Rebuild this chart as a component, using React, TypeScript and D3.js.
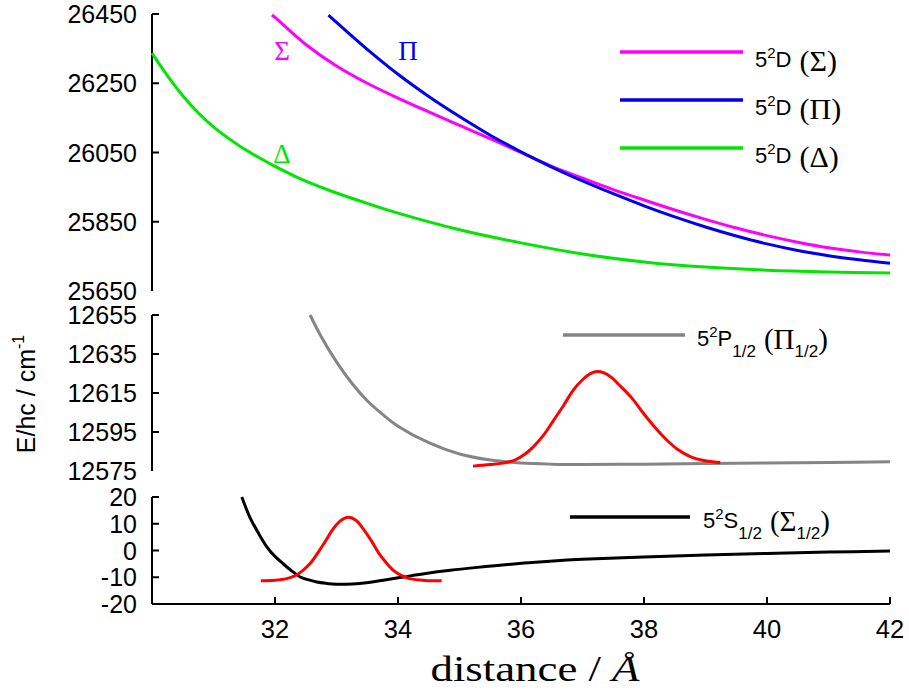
import React from 'react';
import * as d3 from 'd3';

// ---- Data ----
// Top panel: 5²D potentials (E/hc in cm^-1) vs distance (Å)
const sigmaX = [31.95, 32, 32.5, 33, 33.5, 34, 34.5, 35, 35.5, 36, 36.5, 37, 37.5, 38, 38.5, 39, 39.5, 40, 40.5, 41, 41.5, 42];
const sigmaY = [26447, 26440, 26362, 26300, 26250, 26207, 26167, 26128, 26090, 26050, 26010, 25976, 25943, 25913, 25884, 25857, 25832, 25810, 25791, 25775, 25763, 25754];
const piX = [32.87, 33, 33.5, 34, 34.5, 35, 35.5, 36, 36.5, 37, 37.5, 38, 38.5, 39, 39.5, 40, 40.5, 41, 41.5, 42];
const piY = [26447, 26426, 26348, 26276, 26212, 26154, 26100, 26052, 26008, 25968, 25931, 25896, 25864, 25835, 25809, 25786, 25767, 25752, 25740, 25730];
const deltaX = [30, 30.25, 30.5, 30.75, 31, 31.25, 31.5, 31.75, 32, 32.5, 33, 33.5, 34, 35, 36, 37, 38, 39, 40, 41, 42];
const deltaY = [26337, 26272, 26214, 26165, 26124, 26090, 26060, 26034, 26010, 25967, 25933, 25903, 25875, 25827, 25789, 25757, 25734, 25719, 25710, 25705, 25702];

// Middle panel: 5²P1/2 potential and its wavefunction
const pX = [32.57, 32.75, 33, 33.25, 33.5, 33.75, 34, 34.5, 35, 35.5, 36, 36.5, 37, 38, 39, 40, 41, 42];
const pY = [12655, 12644, 12631, 12620, 12611, 12604, 12598, 12589.5, 12583.7, 12580.6, 12579.1, 12578.5, 12578.3, 12578.5, 12578.8, 12579.1, 12579.4, 12579.7];
const wpX = [35.22, 35.5, 35.75, 35.9, 36.05, 36.2, 36.37, 36.53, 36.7, 36.85, 37.0, 37.12, 37.23, 37.35, 37.47, 37.6, 37.8, 37.99, 38.18, 38.37, 38.55, 38.75, 38.95, 39.18, 39.24];
const wpY = [12577.5, 12578.3, 12579.3, 12580.6, 12583.3, 12587.4, 12593.5, 12601, 12609, 12616.5, 12621.8, 12624.8, 12626, 12625.3, 12623, 12619, 12612.5, 12604.6, 12597.3, 12590.9, 12586, 12582.4, 12580.5, 12579.5, 12579.4];

// Bottom panel: 5²S1/2 potential and its wavefunction
const sX = [31.46, 31.59, 31.73, 31.87, 32.0, 32.13, 32.27, 32.41, 32.55, 32.68, 32.84, 33.0, 33.17, 33.33, 33.55, 33.76, 34.09, 34.45, 34.85, 35.25, 35.66, 36.05, 36.47, 37, 38, 39, 40, 41, 42];
const sY = [20, 12.5, 6.5, 1.3, -2.2, -4.9, -7.6, -9.9, -11.0, -11.8, -12.3, -12.6, -12.6, -12.4, -11.9, -11.1, -9.9, -8.6, -7.4, -6.4, -5.5, -4.7, -4.0, -3.3, -2.4, -1.7, -1.1, -0.6, -0.2];
const wsX = [31.77, 32.0, 32.19, 32.32, 32.44, 32.57, 32.69, 32.82, 32.94, 33.07, 33.19, 33.32, 33.44, 33.57, 33.69, 33.82, 33.94, 34.07, 34.19, 34.44, 34.71];
const wsY = [-11.3, -11.1, -10.5, -9.5, -7.7, -4.9, -1.1, 3.5, 7.9, 11.2, 12.4, 11.2, 7.9, 3.5, -1.1, -4.9, -7.7, -9.5, -10.5, -11.17, -11.3];

// Ticks
const xTicks = [32, 34, 36, 38, 40, 42];
const topTicks = [26450, 26250, 26050, 25850, 25650];
const midTicks = [12655, 12635, 12615, 12595, 12575];
const botTicks = [20, 10, 0, -10, -20];

const SANS = '"Liberation Sans", Arial, sans-serif';
const SERIF = '"Liberation Serif", "Times New Roman", serif';

function zip(xs: number[], ys: number[]): [number, number][] {
  return xs.map((v, i) => [v, ys[i]]);
}

export default function App() {
  const x = d3.scaleLinear().domain([30, 42]).range([152, 890]);
  const yTop = d3.scaleLinear().domain([25650, 26450]).range([291, 14]);
  const yMid = d3.scaleLinear().domain([12575, 12655]).range([471, 315]);
  const yBot = d3.scaleLinear().domain([-20, 20]).range([604, 497]);

  const mk = (ys: d3.ScaleLinear<number, number>) =>
    d3.line<[number, number]>().x(d => x(d[0])).y(d => ys(d[1])).curve(d3.curveCatmullRom.alpha(0.5));

  const lTop = mk(yTop);
  const lMid = mk(yMid);
  const lBot = mk(yBot);

  const x0 = x(30);
  const tickLen = 7;

  const yAxis = (ys: d3.ScaleLinear<number, number>, ticks: number[], skipLastTick: boolean) => {
    const [d0, d1] = ys.domain();
    return (
      <g>
        <line x1={x0} x2={x0} y1={ys(d1)} y2={ys(d0)} stroke="#000" strokeWidth={2} />
        {ticks.map(t => (
          <g key={t}>
            {!(skipLastTick && t === d0) && (
              <line x1={x0} x2={x0 + tickLen} y1={ys(t)} y2={ys(t)} stroke="#000" strokeWidth={2} />
            )}
            <text x={137} y={ys(t) + 9} textAnchor="end" fontFamily={SANS} fontSize={25} fill="#000">
              {t}
            </text>
          </g>
        ))}
      </g>
    );
  };

  const subLegend = (x1: number, x2: number, ly: number, tx: number, color: string, letter: string, sym: string) => (
    <g>
      <line x1={x1} x2={x2} y1={ly} y2={ly} stroke={color} strokeWidth={3.5} />
      <text x={tx} y={ly + 11} fontFamily={SANS} fontSize={22} fill="#000">
        5<tspan fontSize={15} dy={-9}>2</tspan><tspan dy={9}>{letter}</tspan>
        <tspan fontSize={17} dy={11}>1/2</tspan>
        <tspan fontFamily={SERIF} fontSize={29} dx={8} dy={-8}>(</tspan>
        <tspan fontFamily={SERIF} fontSize={29}>{sym}</tspan>
        <tspan fontSize={17} dy={8}>1/2</tspan>
        <tspan fontFamily={SERIF} fontSize={29} dy={-8}>)</tspan>
      </text>
    </g>
  );

  return (
    <svg width={909} height={700} style={{ position: 'absolute', left: 0, top: 0, background: '#fff' }}>
      <rect x={0} y={0} width={909} height={700} fill="#fff" />

      {/* Axes */}
      {yAxis(yTop, topTicks, true)}
      {yAxis(yMid, midTicks, true)}
      {yAxis(yBot, botTicks, false)}
      <line x1={x0} x2={x(42)} y1={yBot(-20)} y2={yBot(-20)} stroke="#000" strokeWidth={2} />
      {xTicks.map(t => (
        <g key={t}>
          <line x1={x(t)} x2={x(t)} y1={yBot(-20)} y2={yBot(-20) - tickLen} stroke="#000" strokeWidth={2} />
          <text x={x(t)} y={638} textAnchor="middle" fontFamily={SANS} fontSize={25.5} fill="#000">{t}</text>
        </g>
      ))}

      {/* Axis titles */}
      <text transform="translate(35,394) rotate(-90)" textAnchor="middle" fontFamily={SANS} fontSize={25} fill="#000">
        E/hc / cm<tspan fontSize={16} dy={-11}>-1</tspan>
      </text>
      <text x={535} y={681} textAnchor="middle" fontFamily={SERIF} fontSize={35} textLength={209} lengthAdjust="spacingAndGlyphs" fill="#000">
        distance / <tspan fontStyle="italic">Å</tspan>
      </text>

      {/* Top panel curves */}
      <path d={lTop(zip(deltaX, deltaY)) || ''} fill="none" stroke="#00e600" strokeWidth={3} />
      <path d={lTop(zip(sigmaX, sigmaY)) || ''} fill="none" stroke="#ff00ff" strokeWidth={3} />
      <path d={lTop(zip(piX, piY)) || ''} fill="none" stroke="#0000ee" strokeWidth={3} />
      <text x={282} y={60} textAnchor="middle" fontFamily={SERIF} fontSize={27} fill="#ff00ff">Σ</text>
      <text x={408} y={60} textAnchor="middle" fontFamily={SERIF} fontSize={27} fill="#0000ee">Π</text>
      <text x={282} y={163} textAnchor="middle" fontFamily={SERIF} fontSize={27} fill="#00e600">Δ</text>

      {/* Top legend */}
      {[
        { y: 52, c: '#ff00ff', s: 'Σ' },
        { y: 100, c: '#0000ee', s: 'Π' },
        { y: 148, c: '#00e600', s: 'Δ' },
      ].map(d => (
        <g key={d.s}>
          <line x1={620} x2={743} y1={d.y} y2={d.y} stroke={d.c} strokeWidth={3.5} />
          <text x={755} y={d.y + 14.5} fontFamily={SANS} fontSize={22} fill="#000">
            5<tspan fontSize={15} dy={-9}>2</tspan><tspan dy={9}>D</tspan>
            <tspan fontFamily={SERIF} fontSize={30} dx={8} dy={4}>({d.s})</tspan>
          </text>
        </g>
      ))}

      {/* Middle panel */}
      <path d={lMid(zip(pX, pY)) || ''} fill="none" stroke="#858585" strokeWidth={3} />
      <path d={lMid(zip(wpX, wpY)) || ''} fill="none" stroke="#ff0000" strokeWidth={3} />
      {subLegend(563, 685, 335, 697, '#858585', 'P', 'Π')}

      {/* Bottom panel */}
      <path d={lBot(zip(sX, sY)) || ''} fill="none" stroke="#000" strokeWidth={3} />
      <path d={lBot(zip(wsX, wsY)) || ''} fill="none" stroke="#ff0000" strokeWidth={3} />
      {subLegend(570, 690, 517, 703, '#000', 'S', 'Σ')}
    </svg>
  );
}
